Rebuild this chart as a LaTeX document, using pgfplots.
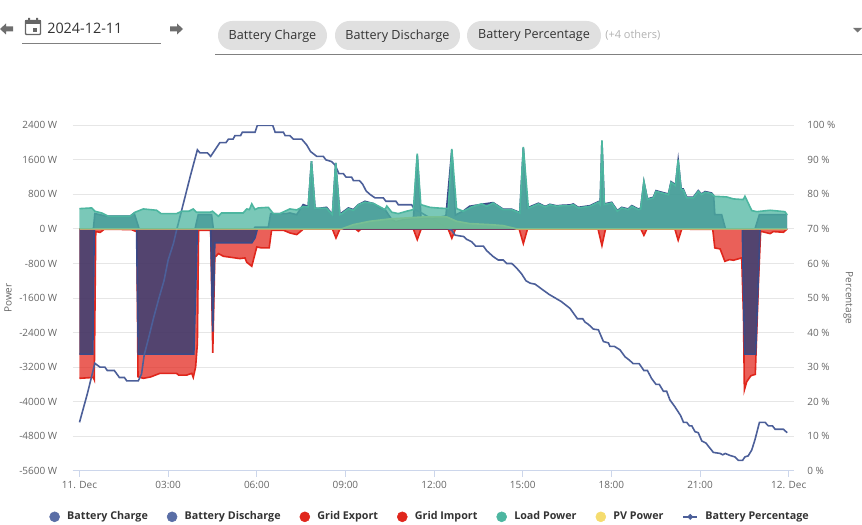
\documentclass[border=0pt]{standalone}
\usepackage{pgfplots}
\usepackage{pgfplotstable}
\usepackage{fontspec}
\setmainfont{Open Sans}
\pgfplotsset{compat=1.18}

\definecolor{bluefill}{HTML}{213B77}
\definecolor{blueline}{HTML}{3A4A88}
\definecolor{bluekey}{HTML}{5A6EA6}
\definecolor{pctline}{HTML}{4C5F99}
\definecolor{redfill}{HTML}{E32B21}
\definecolor{redline}{HTML}{E0261C}
\definecolor{tealfill}{HTML}{4DB6A0}
\definecolor{pvyellow}{HTML}{F5DC6E}
\definecolor{gridc}{HTML}{E6E6E6}
\definecolor{axisc}{HTML}{CCD6EB}
\definecolor{labelc}{HTML}{666666}

% time in hours, power in W
\pgfplotstableread[row sep=\\]{t w\\
0 -3460\\ .47 -3440\\ .5 -3490\\ .55 -60\\ .7 -80\\ .83 -10\\ 1.2 -10\\ 1.76 -15\\ 1.88 -50\\ 1.94 -60\\
1.98 -3423\\ 2.16 -3460\\ 2.4 -3430\\ 2.72 -3345\\ 3.29 -3345\\ 3.35 -3385\\ 3.63 -3385\\ 3.8 -3345\\ 3.85 -3440\\ 3.93 -3200\\ 3.99 -2650\\
4.03 -30\\ 4.36 -30\\ 4.44 -30\\ 4.51 -2870\\ 4.58 -633\\ 4.62 -633\\ 4.7 -570\\ 4.87 -633\\ 5.43 -687\\ 5.6 -672\\ 5.66 -772\\ 5.83 -865\\
6.0 -417\\ 6.16 -440\\ 6.42 -440\\ 6.5 -30\\ 6.9 -30\\ 7.12 -93\\ 7.35 -131\\ 7.49 -54\\ 7.57 -5\\
8.56 -5\\ 8.68 -210\\ 8.81 -5\\ 9.35 -5\\ 9.44 -54\\ 9.52 -5\\ 11.3 -5\\ 11.43 -247\\ 11.56 -5\\ 12.48 -5\\ 12.6 -216\\ 12.72 -5\\
14.88 -5\\ 15.02 -340\\ 15.16 -5\\ 17.55 -5\\ 17.68 -386\\ 17.8 -5\\ 19.0 -5\\ 19.1 -147\\ 19.2 -5\\ 20.15 -5\\ 20.26 -262\\ 20.38 -5\\
21.43 -10\\ 21.5 -440\\ 21.68 -463\\ 21.84 -750\\ 22.0 -710\\ 22.13 -725\\ 22.41 -670\\ 22.47 -2000\\ 22.5 -3731\\ 22.58 -3538\\ 22.72 -3400\\ 22.87 -3368\\ 22.98 -1183\\
23.05 -54\\ 23.37 -108\\ 23.48 -62\\ 23.82 -77\\ 23.95 0\\
}\gridimport

\pgfplotstableread[row sep=\\]{t w\\
0 0\\ 12 0\\ 23.95 0\\
}\gridexport

\pgfplotstableread[row sep=\\]{t w\\
0 -2900\\ .45 -2900\\ .5 0\\ 1.93 0\\ 1.99 -2900\\ 3.87 -2900\\ 3.99 0\\ 4.44 0\\ 4.51 -2380\\ 4.58 -324\\ 5.83 -324\\ 5.94 -208\\ 6.02 0\\
22.43 0\\ 22.51 -2900\\ 22.88 -2900\\ 23.03 0\\ 23.95 0\\
}\charge

\pgfplotstableread[row sep=\\]{t w\\
0 0\\ .47 0\\ .52 355\\ .81 310\\ .98 293\\ 1.71 293\\ 1.85 365\\ 2.02 0\\ 3.91 0\\ 4.02 332\\ 4.47 332\\ 4.53 0\\ 5.9 0\\ 5.94 40\\ 6.39 40\\ 6.47 355\\ 7.0 355\\
7.12 370\\ 7.35 330\\ 7.57 563\\ 7.74 520\\ 7.85 1567\\ 7.97 490\\ 8.03 470\\ 8.36 500\\ 8.56 340\\ 8.67 1530\\ 8.81 340\\ 8.87 370\\ 9.1 486\\ 9.27 447\\ 9.44 563\\ 9.66 640\\ 9.95 586\\
10.17 486\\ 10.34 447\\ 10.57 216\\ 10.7 170\\ 11.0 220\\ 11.3 240\\ 11.43 1700\\ 11.56 250\\ 12 250\\ 12.4 300\\ 12.6 1830\\ 12.72 320\\ 13.0 420\\ 13.2 525\\ 13.61 570\\ 14.0 610\\ 14.34 455\\ 14.63 455\\ 14.9 380\\
15.02 1880\\ 15.16 490\\ 15.53 595\\ 15.76 520\\ 15.92 570\\ 16.15 535\\ 16.37 550\\ 16.6 555\\ 16.71 578\\ 16.88 500\\ 17.28 540\\ 17.56 632\\ 17.62 600\\ 17.68 2040\\ 17.76 578\\ 18.01 617\\ 18.2 425\\ 18.35 500\\ 18.57 462\\ 18.69 540\\ 18.91 462\\ 18.99 478\\
19.1 1090\\ 19.22 695\\ 19.42 733\\ 19.51 887\\ 19.7 850\\ 19.93 810\\ 20.02 1095\\ 20.17 1020\\ 20.26 1595\\ 20.36 925\\ 20.43 925\\ 20.55 733\\ 20.77 733\\ 20.94 887\\ 21.05 810\\ 21.17 865\\ 21.39 833\\ 21.46 775\\
21.5 332\\ 21.73 332\\ 21.86 0\\ 22.86 0\\ 23.01 332\\ 23.95 332\\
}\discharge

\pgfplotstableread[row sep=\\]{t w\\
0 470\\ .41 486\\ .52 410\\ .75 370\\ .98 293\\ 1.71 293\\ 1.88 386\\ 2.16 463\\ 2.61 432\\ 2.76 355\\ 3.29 355\\ 3.46 410\\ 3.7 410\\ 3.85 463\\ 3.96 386\\ 4.42 386\\ 4.5 410\\ 4.7 293\\ 4.81 370\\ 5.54 370\\ 5.66 463\\ 5.75 448\\ 5.83 580\\ 5.94 448\\ 6.05 486\\ 6.39 500\\ 6.56 355\\ 6.78 355\\
7.12 463\\ 7.35 440\\ 7.57 520\\ 7.74 510\\ 7.85 1567\\ 7.97 480\\ 8.36 480\\ 8.56 330\\ 8.67 1530\\ 8.81 330\\ 8.87 350\\ 9.1 470\\ 9.27 430\\ 9.44 560\\ 9.66 620\\ 9.95 590\\ 10.17 510\\ 10.34 447\\ 10.4 530\\ 10.57 386\\ 10.79 355\\ 11.07 410\\ 11.3 448\\ 11.43 1745\\ 11.55 563\\ 11.86 500\\ 12.09 486\\ 12.48 470\\ 12.6 1853\\ 12.76 470\\ 12.99 410\\ 13.27 510\\ 13.61 580\\ 13.78 525\\ 14.0 600\\ 14.34 447\\ 14.63 447\\ 14.9 370\\
15.02 1900\\ 15.19 480\\ 15.53 580\\ 15.76 510\\ 15.92 560\\ 16.15 525\\ 16.37 540\\ 16.6 540\\ 16.71 563\\ 16.88 486\\ 17.28 525\\ 17.56 618\\ 17.62 563\\ 17.68 2053\\ 17.76 563\\ 18.01 602\\ 18.2 410\\ 18.35 486\\ 18.57 448\\ 18.69 525\\ 18.91 448\\ 18.99 463\\
19.1 1104\\ 19.22 680\\ 19.42 718\\ 19.51 872\\ 19.7 834\\ 19.93 795\\ 20.02 1081\\ 20.17 1004\\ 20.26 1606\\ 20.36 911\\ 20.43 911\\ 20.55 718\\ 20.77 718\\ 20.94 872\\ 21.05 795\\ 21.17 849\\ 21.39 818\\ 21.48 757\\
21.9 741\\ 22.13 695\\ 22.46 680\\ 22.52 757\\ 22.75 425\\ 22.92 400\\ 23.37 432\\ 23.87 400\\ 23.95 324\\
}\load

\pgfplotstableread[row sep=\\]{t w\\
0 0\\ 8.87 0\\ 9.27 100\\ 9.83 178\\ 10.5 232\\ 11.64 278\\ 12.43 278\\ 12.76 178\\ 13.2 124\\ 13.89 100\\ 14.34 77\\ 14.8 0\\ 23.95 0\\
}\pv

% time in hours, state of charge in percent
\pgfplotstableread[row sep=\\]{t p\\
0 14\\ .27 22.4\\ .52 31.1\\ .69 30\\ .86 30\\ .94 29\\ 1.18 29\\ 1.35 27\\ 1.52 27\\ 1.6 26\\ 1.99 26\\ 2.1 28\\ 2.19 33.5\\ 2.35 38.8\\ 2.5 44\\ 2.69 50\\ 2.86 55\\ 3 61\\ 3.18 65.8\\ 3.29 69.8\\ 3.46 75.5\\ 3.76 85.6\\ 3.99 92.9\\ 4.08 92\\ 4.33 92\\ 4.44 91\\ 4.75 95\\ 4.96 95\\ 5.04 96\\ 5.2 96\\ 5.26 97\\ 5.45 97\\ 5.51 98\\ 5.94 98\\ 6.02 100\\ 6.54 100\\ 6.62 98\\ 6.9 98\\ 6.96 97\\ 7.12 97\\
7.24 96\\ 7.52 96\\ 7.69 94.3\\ 7.82 92.4\\ 8.03 91\\ 8.25 91\\ 8.34 90\\ 8.53 89.5\\ 8.65 88.5\\ 8.78 86\\ 8.93 86\\ 9.02 85\\ 9.21 85\\ 9.27 84\\ 9.47 84\\ 9.58 83\\ 9.7 81\\ 9.83 80\\ 10 79\\ 10.28 79\\ 10.37 78\\ 10.71 78\\ 10.79 77\\ 11.24 77\\ 11.35 75.5\\ 11.5 75\\ 11.9 73\\ 12.3 71\\ 12.6 69.6\\
12.71 68.2\\ 13 67.8\\ 13.1 67\\ 13.27 66.3\\ 13.41 65\\ 13.67 65\\ 13.78 63.7\\ 14 62\\ 14.17 61\\ 14.34 61\\ 14.46 60\\ 14.63 60\\ 14.8 58.6\\ 14.96 57\\ 15.11 55\\ 15.25 54.3\\ 15.42 54\\ 15.64 52.6\\ 15.9 51\\ 16.3 49\\ 16.6 47\\
16.85 44\\ 17.03 44\\ 17.11 43\\ 17.22 42.4\\ 17.39 41\\ 17.56 40.8\\ 17.73 37.4\\ 17.9 37\\ 17.95 36\\ 18.1 36\\ 18.29 35\\ 18.46 33\\ 18.61 32\\ 18.74 31\\ 18.94 31\\ 19.1 29\\ 19.22 29\\ 19.36 26.7\\ 19.51 25\\ 19.62 25\\ 19.76 23\\ 19.87 23\\ 19.98 20.5\\ 20.15 18.5\\ 20.34 16\\ 20.44 14\\ 20.55 14\\ 20.64 13\\ 20.72 13\\ 20.83 11.3\\ 20.94 11\\
21.06 8.6\\ 21.2 8\\ 21.45 5.3\\ 21.68 5\\ 21.77 4.6\\ 21.85 5\\ 22.02 4.4\\ 22.18 4\\ 22.3 3\\ 22.44 3\\ 22.52 4\\ 22.63 4.3\\ 22.75 6\\ 22.86 9\\ 23.01 14\\ 23.2 14\\ 23.31 13\\ 23.45 13\\ 23.54 12\\ 23.82 12\\ 23.95 11\\
}\percent

\pgfplotsset{
  common/.style={
    at={(54.45pt,-353.025pt)},anchor=south west,
    scale only axis,width=541.05pt,height=259.05pt,
    xmin=-0.233,xmax=24.18,
    tick label style={font=\fontsize{7.5}{9}\selectfont,text=labelc},
    label style={font=\fontsize{7.5}{9}\selectfont,text=labelc},
  },
  key/.style={legend image code/.code={\fill[#1] (0.05cm,0) circle (3.75pt);}},
}

\newcommand{\series}[2]{% table, colour
  \addplot[forget plot,draw=none,fill=#2,fill opacity=.75] table[x=t,y=w] {#1} \closedcycle;
}

\begin{document}
\begin{tikzpicture}
\path[use as bounding box] (0,0) rectangle (646.5pt,-393pt);

% percent scale, drawn first so that only its labels sit under the series
\begin{axis}[common,
  ymin=0,ymax=100,
  ytick={0,10,...,100},
  yticklabels={0 \%,10 \%,20 \%,30 \%,40 \%,50 \%,60 \%,70 \%,80 \%,90 \%,100 \%},
  xtick=\empty,
  axis x line=none,axis y line*=right,
  y axis line style={draw=none,-},
  ytick style={draw=none},
  yticklabel style={xshift=6.5pt},
  ylabel={Percentage},
  ylabel style={at={(axis description cs:1.075,.5)},anchor=center,rotate=180},
]
\end{axis}

\begin{axis}[common,
  ymin=-5600,ymax=2400,
  ytick={-5600,-4800,-4000,-3200,-2400,-1600,-800,0,800,1600,2400},
  yticklabels={-5600 W,-4800 W,-4000 W,-3200 W,-2400 W,-1600 W,-800 W,0 W,800 W,1600 W,2400 W},
  ymajorgrids=true,
  grid style={gridc,line width=.75pt},
  xtick={0,3,...,24},
  xticklabels={11. Dec,03:00,06:00,09:00,12:00,15:00,18:00,21:00,12. Dec},
  axis x line*=bottom,axis y line*=left,
  x axis line style={draw=axisc,line width=.75pt,-},
  y axis line style={draw=none,-},
  xtick style={draw=axisc,line width=.75pt},
  ytick style={draw=none},
  tick align=outside,
  major tick length=4.5pt,
  xticklabel style={yshift=.3pt},
  yticklabel style={xshift=-3.5pt},
  ylabel={Power},
  ylabel style={at={(axis description cs:-0.0895,.5)},anchor=center},
  legend columns=7,
  legend cell align=left,
  legend style={at={(-0.0326,-0.1335)},anchor=west,draw=none,fill=none,inner sep=0pt,
    font=\fontsize{8.05}{10}\selectfont\bfseries,text=black!80,
    /tikz/every odd column/.append style={column sep=3.5pt},
    /tikz/every even column/.append style={column sep=12.2pt}},
]
% legend keys first, in the legend's order
\addlegendimage{key=bluekey}\addlegendentry{Battery Charge}
\addlegendimage{key=bluekey}\addlegendentry{Battery Discharge}
\addlegendimage{key=redline}\addlegendentry{Grid Export}
\addlegendimage{key=redline}\addlegendentry{Grid Import}
\addlegendimage{key=tealfill}\addlegendentry{Load Power}
\addlegendimage{key=pvyellow}\addlegendentry{PV Power}
\addlegendimage{legend image code/.code={\draw[pctline,line width=1.2pt] (0,0)--(.37cm,0);\fill[pctline] (.185cm,2pt)--(.255cm,0)--(.185cm,-2pt)--(.115cm,0)--cycle;}}\addlegendentry{Battery Percentage}

\series{\gridimport}{redfill}
\addplot[forget plot,redline,line width=1.2pt] table[x=t,y=w] {\gridimport};
\addplot[forget plot,redline,line width=1.2pt] table[x=t,y=w] {\gridexport};
\series{\charge}{bluefill}
\addplot[forget plot,blueline,line width=1.2pt] table[x=t,y=w] {\charge};
\series{\discharge}{bluefill}
\addplot[forget plot,blueline,line width=1.2pt] table[x=t,y=w] {\discharge};
% percent line on the right scale: 0 to 100 maps on to -5600 to 2400
\addplot[forget plot,pctline,line width=1.2pt] table[x=t,y expr=\thisrow{p}*80-5600] {\percent};
\series{\pv}{pvyellow}
\addplot[forget plot,pvyellow,line width=1.2pt] table[x=t,y=w] {\pv};
\series{\load}{tealfill}
\addplot[forget plot,tealfill,line width=1.2pt] table[x=t,y=w] {\load};
\end{axis}

% header controls, in page pixels from the top left
\begin{scope}[x=.75pt,y=-.75pt]
\fill[labelc!95] (0,29)--(6,23.5)--(6,26.5)--(13,26.5)--(13,31.5)--(6,31.5)--(6,34.5)--cycle;
\fill[labelc!95] (183,29)--(177,23.5)--(177,26.5)--(170,26.5)--(170,31.5)--(177,31.5)--(177,34.5)--cycle;
\draw[labelc,line width=1pt,rounded corners=.7pt] (25.5,20.5) rectangle (40.5,34.5);
\fill[labelc] (25,20) rectangle (41,24.5);
\fill[labelc] (28,18) rectangle (30,21) (36,18) rectangle (38,21);
\fill[labelc] (33,28) rectangle (37,32);
\node[anchor=west,inner sep=0,font=\fontsize{10.8}{13}\selectfont,text=black!80] at (47,28) {2024-12-11};
\draw[gray,line width=.75pt] (22,43.5)--(161,43.5);
\foreach \a/\b/\s in {218/327/Battery Charge,335/460/Battery Discharge,467/601/Battery Percentage}{
  \fill[black!12,rounded corners=10.8pt] (\a,21) rectangle (\b,50);
  \node[inner sep=0,font=\fontsize{9.45}{12}\selectfont,text=black!80] at ({(\a+\b)/2},36) {\s};
}
\node[anchor=west,inner sep=0,font=\fontsize{8.25}{10}\selectfont,text=black!30] at (605,35.5) {(+4 others)};
\fill[labelc!90] (853,28)--(862,28)--(857.5,32.5)--cycle;
\draw[gray,line width=.75pt] (215,54.5)--(862,54.5);
\end{scope}
\end{tikzpicture}
\end{document}
